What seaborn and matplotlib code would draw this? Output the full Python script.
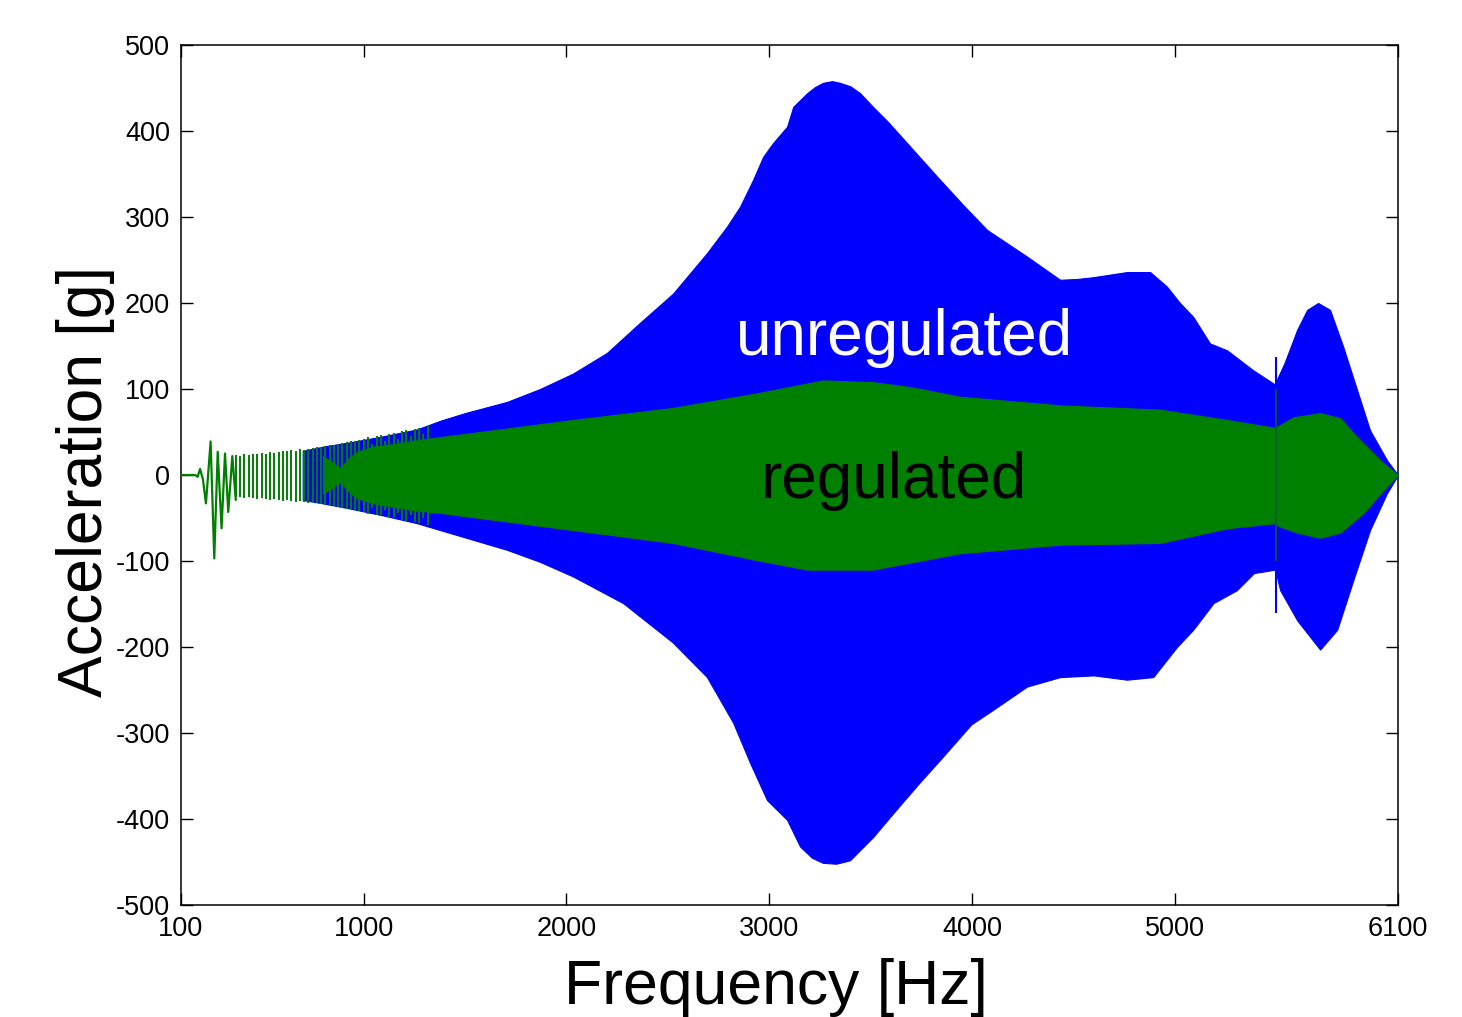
import numpy as np
import pandas as pd
import matplotlib
matplotlib.use("Agg")
import matplotlib.pyplot as plt
import seaborn as sns

# ---- data (frequency in Hz, acceleration in g) ----

# early, individually visible oscillations at the start of the sweep
early_freq = [100, 169, 182, 194, 208, 223, 246, 264, 281, 300, 317, 333, 353, 370]
early_acc = [0, 0, -2, 7, -5, -33, 39, -97, 27, -62, 25, -43, 22, -29]

# dense striped part of the regulated signal
stripe_freq = [372, 392, 413, 434, 455, 476, 497, 518, 539, 560,
               581, 602, 623, 644, 665, 686, 707, 728, 749, 770,
               791, 812, 833, 854, 875, 896, 917, 938, 959, 980,
               1001, 1022, 1043, 1064, 1085, 1106, 1127, 1148, 1169, 1190,
               1211, 1232, 1253, 1274, 1295, 1316]
stripe_hi = [23, 22, 24, 23, 25, 24, 26, 25, 27, 26,
             27, 28, 28, 29, 28, 30, 29, 30, 31, 32,
             33, 34, 35, 35, 36, 37, 38, 39, 40, 41,
             42, 44, 36, 45, 46, 40, 48, 49, 42, 51,
             52, 45, 54, 55, 48, 57]
stripe_lo = [-26, -25, -27, -26, -27, -28, -27, -28, -29, -28,
             -29, -30, -29, -30, -31, -30, -31, -32, -31, -33,
             -34, -35, -35, -36, -37, -38, -39, -40, -41, -42,
             -43, -45, -38, -46, -47, -41, -49, -50, -44, -52,
             -53, -47, -55, -56, -50, -58]

# unregulated envelope (blue)
unreg_up_freq = [700, 800, 933, 1096, 1263, 1377, 1500, 1707, 1870, 2033,
                 2200, 2363, 2526, 2693, 2792, 2856, 2920, 2970, 3019, 3088,
                 3118, 3187, 3225, 3265, 3310, 3349, 3400, 3448, 3512, 3580,
                 3645, 3740, 3843, 3960, 4074, 4271, 4434, 4520, 4597, 4764,
                 4878, 4961, 5025, 5090, 5173, 5257, 5385, 5495, 5505, 5540,
                 5603, 5652, 5706, 5765, 5830, 5898, 5962, 6046, 6100]
unreg_up_acc = [28, 33, 38, 45, 53, 63, 72, 85, 100, 118,
                142, 177, 211, 258, 289, 312, 343, 370, 386, 405,
                428, 444, 451, 456, 458, 456, 452, 444, 428, 412,
                395, 370, 343, 313, 285, 254, 227, 228, 230, 236,
                236, 219, 200, 184, 153, 145, 122, 105, 112, 130,
                169, 192, 200, 192, 149, 99, 52, 17, 0]

unreg_lo_freq = [700, 800, 933, 1096, 1263, 1377, 1707, 1870, 2033, 2280,
                 2526, 2693, 2822, 2906, 2989, 3088, 3152, 3210, 3265, 3330,
                 3398, 3512, 3580, 3645, 3740, 3843, 3996, 4104, 4271, 4434,
                 4600, 4764, 4893, 5010, 5090, 5190, 5305, 5390, 5495, 5519,
                 5603, 5716, 5800, 5880, 5962, 6046, 6100]
unreg_lo_acc = [-29, -33, -39, -47, -56, -64, -87, -101, -118, -149,
                -195, -235, -288, -335, -378, -401, -432, -445, -451, -452,
                -448, -421, -402, -384, -358, -331, -290, -273, -246, -235,
                -233, -238, -235, -200, -180, -149, -134, -114, -110, -134,
                -169, -203, -180, -122, -64, -21, 0]

# regulated envelope (green)
reg_up_freq = [800, 884, 930, 968, 1050, 1150, 1250, 1377, 2033, 2526,
               2940, 3265, 3512, 3700, 3941, 4434, 4927, 5257, 5490, 5503,
               5583, 5716, 5815, 5898, 6012, 6100]
reg_up_acc = [22, 8, 20, 27, 33, 36, 40, 44, 64, 78,
              95, 110, 108, 102, 91, 81, 76, 64, 55, 56,
              67, 72, 66, 44, 17, 0]

reg_lo_freq = [800, 884, 930, 968, 1050, 1150, 1250, 1377, 2033, 2526,
               2940, 3187, 3512, 3941, 4434, 4927, 5257, 5490, 5519, 5603,
               5716, 5815, 5930, 6030, 6100]
reg_lo_acc = [-22, -8, -20, -27, -33, -37, -41, -44, -64, -79,
              -99, -110, -110, -91, -81, -79, -62, -56, -60, -67,
              -73, -67, -44, -17, 0]

# glitch near 5500 Hz
glitch_freq = 5500
glitch_unreg = (-160, 137)
glitch_reg = (-100, 100)

x_ticks = [100, 1000, 2000, 3000, 4000, 5000, 6100]
y_ticks = [-500, -400, -300, -200, -100, 0, 100, 200, 300, 400, 500]

BLUE = "#0000ff"
GREEN = "#008000"

sns.set_style("ticks")
plt.rcParams["font.family"] = ["Liberation Sans", "DejaVu Sans"]
plt.rcParams["axes.unicode_minus"] = False
plt.rcParams["text.color"] = "black"
plt.rcParams["axes.labelcolor"] = "black"
plt.rcParams["xtick.color"] = "black"
plt.rcParams["ytick.color"] = "black"


def envelope(freq_up, acc_up, freq_lo, acc_lo):
    # put upper and lower edges on one shared frequency grid
    grid = np.union1d(freq_up, freq_lo)
    return grid, np.interp(grid, freq_up, acc_up), np.interp(grid, freq_lo, acc_lo)


def main():
    fig = plt.figure(figsize=(14.62, 10.17), dpi=100)
    ax = fig.add_axes([181 / 1462, 112 / 1017, 1217 / 1462, 860 / 1017])

    # unregulated (blue)
    f, up, lo = envelope(unreg_up_freq, unreg_up_acc, unreg_lo_freq, unreg_lo_acc)
    ax.fill_between(f, lo, up, color=BLUE, linewidth=0.8, edgecolor=BLUE, zorder=2)
    ax.vlines(glitch_freq, *glitch_unreg, color=BLUE, linewidth=1.5, zorder=2)

    # regulated (green)
    f, up, lo = envelope(reg_up_freq, reg_up_acc, reg_lo_freq, reg_lo_acc)
    ax.fill_between(f, lo, up, color=GREEN, linewidth=0.8, edgecolor=GREEN, zorder=3)
    ax.vlines(stripe_freq, stripe_lo, stripe_hi, color=GREEN, linewidth=1.4, zorder=3)
    ax.vlines(glitch_freq, *glitch_reg, color="#0b5a2a", linewidth=1.2, zorder=4)

    early = pd.DataFrame({"freq": early_freq, "acc": early_acc})
    sns.lineplot(data=early, x="freq", y="acc", color=GREEN, linewidth=1.6,
                 estimator=None, ax=ax, zorder=3)

    ax.text(3669, 140, "unregulated", color="white", fontsize=46,
            ha="center", va="baseline", zorder=5)
    ax.text(3615, -27, "regulated", color="black", fontsize=46,
            ha="center", va="baseline", zorder=5)

    ax.set_xlim(100, 6100)
    ax.set_ylim(-500, 500)
    ax.set_xticks(x_ticks)
    ax.set_yticks(y_ticks)
    ax.tick_params(direction="in", length=8.5, width=1, labelsize=19.5,
                   top=True, right=True, pad=8)
    for s in ax.spines.values():
        s.set_visible(True)
        s.set_linewidth(1.1)
        s.set_color("black")

    ax.set_xlabel("Frequency [Hz]", fontsize=45)
    ax.set_ylabel("Acceleration [g]", fontsize=45)
    ax.xaxis.set_label_coords(0.489, -0.062)
    ax.yaxis.set_label_coords(-0.054, 0.492)

    fig.savefig("out.png", dpi=100, facecolor="white")
    plt.close(fig)


if __name__ == "__main__":
    main()
